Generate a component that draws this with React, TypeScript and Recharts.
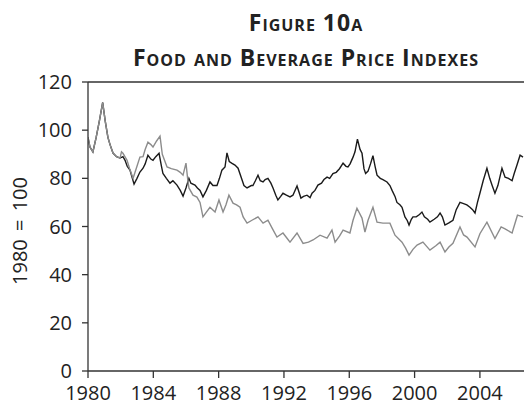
import { LineChart, Line, XAxis, YAxis, ReferenceLine } from "recharts";

// Two real price indexes, 1980 = 100. Black line sits on top from 1986 on.
const blackYears = [
  1980.0, 1980.12, 1980.3, 1980.5, 1980.7, 1980.9, 1981.05, 1981.22, 1981.35, 1981.53,
  1981.75, 1981.96, 1982.14, 1982.27, 1982.4, 1982.57, 1982.82, 1983.0, 1983.18, 1983.37,
  1983.5, 1983.67, 1983.85, 1983.98, 1984.15, 1984.35, 1984.5, 1984.59, 1984.8, 1985.02,
  1985.2, 1985.45, 1985.65, 1985.82, 1986.0, 1986.18, 1986.3, 1986.55, 1986.7, 1986.86,
  1987.04, 1987.25, 1987.47, 1987.65, 1987.9, 1988.05, 1988.2, 1988.39, 1988.51, 1988.65,
  1988.82, 1989.0, 1989.19, 1989.4, 1989.55, 1989.74, 1990.0, 1990.1, 1990.25, 1990.41,
  1990.55, 1990.72, 1990.85, 1991.02, 1991.2, 1991.33, 1991.5, 1991.63, 1991.8, 1991.94,
  1992.15, 1992.37, 1992.55, 1992.8, 1993.04, 1993.2, 1993.41, 1993.6, 1993.72, 1993.9,
  1994.08, 1994.3, 1994.45, 1994.64, 1994.8, 1995.0, 1995.2, 1995.4, 1995.62, 1995.8,
  1995.92, 1996.05, 1996.23, 1996.35, 1996.5, 1996.66, 1996.78, 1996.9, 1997.0, 1997.15,
  1997.3, 1997.45, 1997.58, 1997.7, 1997.9, 1998.06, 1998.31, 1998.49, 1998.62, 1998.8,
  1998.92, 1999.1, 1999.23, 1999.41, 1999.55, 1999.66, 1999.8, 1999.9, 2000.1, 2000.3,
  2000.45, 2000.6, 2000.8, 2000.94, 2001.2, 2001.4, 2001.56, 2001.7, 2001.86, 2002.1,
  2002.35, 2002.55, 2002.78, 2003.0, 2003.2, 2003.39, 2003.55, 2003.7, 2003.85, 2004.0,
  2004.2, 2004.43, 2004.6, 2004.75, 2004.92, 2005.1, 2005.35, 2005.54, 2005.75, 2005.97,
  2006.1, 2006.27, 2006.46, 2006.64,
];
const blackValues = [
  97, 93, 91, 97, 104, 111.5, 104, 97, 94, 90.5,
  89, 88.4, 89, 87.5, 85, 83.4, 77.6, 80, 82.6, 84.2,
  86, 89.6, 88, 87.5, 89, 90.4, 85, 82, 80, 78,
  79, 77.2, 75, 72.6, 76, 80, 78, 77.2, 76, 75,
  72.3, 75, 78.5, 77, 77, 80, 83.4, 84.7, 90.6, 87,
  86.2, 85.5, 84.2, 80, 77, 76, 77, 77, 79, 81.3,
  79, 78.5, 79.5, 80, 78, 76, 73, 71, 72.5, 73.8,
  73, 72.3, 73, 76.8, 71.8, 72.5, 73, 72, 73.8, 75,
  77.2, 78, 79.5, 80.5, 80, 82, 82.5, 84, 86.3, 85,
  84.7, 86, 88.8, 91, 96.3, 92, 90.4, 84, 82, 83,
  86, 89.4, 85, 81.3, 80, 79.5, 78.5, 77, 75, 72.5,
  70, 69, 68, 64, 62.5, 60.6, 63, 64, 64, 65,
  66, 64, 63, 61.8, 63, 64, 65.6, 64, 60.6, 61.5,
  62.6, 67, 70, 69.5, 69, 68, 67, 65.6, 70, 73.8,
  79, 84.2, 80, 77, 73.8, 77, 84.2, 80.5, 80, 79,
  82, 85.5, 89.6, 88.8,
];

const grayYears = [
  1980.0, 1980.12, 1980.3, 1980.5, 1980.7, 1980.9, 1981.05, 1981.22, 1981.35, 1981.53,
  1981.75, 1981.96, 1982.05, 1982.14, 1982.39, 1982.55, 1982.76, 1982.95, 1983.18, 1983.37,
  1983.5, 1983.67, 1983.85, 1983.98, 1984.2, 1984.41, 1984.55, 1984.84, 1985.1, 1985.45,
  1985.65, 1985.82, 1986.0, 1986.1, 1986.18, 1986.43, 1986.67, 1986.86, 1987.04, 1987.25,
  1987.47, 1987.78, 1988.02, 1988.27, 1988.45, 1988.63, 1988.88, 1989.1, 1989.31, 1989.5,
  1989.74, 1990.04, 1990.41, 1990.72, 1991.02, 1991.3, 1991.57, 1991.94, 1992.2, 1992.37,
  1992.8, 1993.17, 1993.5, 1993.78, 1994.21, 1994.64, 1994.94, 1995.13, 1995.4, 1995.62,
  1996.04, 1996.23, 1996.47, 1996.78, 1996.96, 1997.15, 1997.45, 1997.7, 1998.06, 1998.49,
  1998.8, 1999.23, 1999.45, 1999.66, 1999.9, 2000.15, 2000.51, 2000.94, 2001.3, 2001.56,
  2001.86, 2002.1, 2002.35, 2002.78, 2003.0, 2003.21, 2003.7, 2004.0, 2004.43, 2004.92,
  2005.3, 2005.54, 2005.97, 2006.3, 2006.64,
];
const grayValues = [
  97, 93, 91, 97, 104, 111.5, 104, 97, 94, 90.5,
  89, 88.4, 91, 90.4, 87.5, 84, 80, 84, 88.8, 89,
  92, 95, 94, 93, 95.5, 97.5, 90, 84.7, 84, 83.4,
  82.5, 81.3, 86.3, 80, 76, 73, 72.2, 70, 64, 66,
  68, 66, 71, 66, 69, 73, 69.7, 69, 68, 64,
  61.4, 62.6, 64, 61.4, 62.6, 59, 55.6, 57.3, 55, 53.5,
  57.3, 53, 53.5, 54.4, 56.4, 55.2, 58.5, 53.5, 56, 58.5,
  57.3, 62.6, 67.6, 63.5, 57.7, 62.6, 68, 61.8, 61.4, 61.4,
  56.4, 53.5, 51, 48.1, 50.5, 52.3, 53.5, 50.2, 52, 53.5,
  49.4, 51.5, 53, 59.8, 56.5, 55.6, 51.5, 57, 61.8, 55,
  59.8, 59, 57.3, 64.7, 64,
];

const xTicks = [1980, 1984, 1988, 1992, 1996, 2000, 2004];
const yTicks = [0, 20, 40, 60, 80, 100, 120];

const blackData = blackYears.map((t, i) => ({ t, v: blackValues[i] }));
const grayData = grayYears.map((t, i) => ({ t, v: grayValues[i] }));

const tickFont = { fill: "#222", fontSize: 20, fontFamily: "Open Sans" };

export default function App() {
  return (
    <div
      style={{
        position: "absolute",
        left: 0,
        top: 0,
        width: 524,
        height: 408,
        background: "#fff",
        overflow: "hidden",
      }}
    >
      <div
        style={{
          position: "absolute",
          left: 88,
          width: 436,
          top: 5,
          textAlign: "center",
          fontFamily: "Open Sans",
          fontWeight: 700,
          fontVariant: "small-caps",
          fontSize: 23,
          lineHeight: "35px",
          color: "#222",
          letterSpacing: 1,
        }}
      >
        <div>Figure 10a</div>
        <div>Food and Beverage Price Indexes</div>
      </div>
      <div
        style={{
          position: "absolute",
          left: 19,
          top: 231,
          transform: "translate(-50%, -50%) rotate(-90deg)",
          whiteSpace: "nowrap",
          fontFamily: "Open Sans",
          fontSize: 20,
          wordSpacing: 3,
          color: "#222",
        }}
      >
        1980 = 100
      </div>
      <LineChart
        width={524}
        height={408}
        margin={{ top: 82, right: 0, bottom: 0, left: 0 }}
        style={{ position: "absolute", left: 0, top: 0 }}
      >
        <XAxis
          type="number"
          dataKey="t"
          domain={[1980, 2006.7]}
          ticks={xTicks}
          allowDataOverflow
          height={37}
          tickSize={7}
          tickMargin={8}
          tick={tickFont}
          stroke="#333"
          strokeWidth={1.3}
        />
        <YAxis
          type="number"
          domain={[0, 120]}
          ticks={yTicks}
          width={88}
          tickSize={6}
          tickMargin={10}
          tick={tickFont}
          stroke="#333"
          strokeWidth={1.3}
        />
        <ReferenceLine y={120} stroke="#333" strokeWidth={1.3} />
        <Line
          data={blackData}
          dataKey="v"
          stroke="#1a1a1a"
          strokeWidth={1.4}
          dot={false}
          isAnimationActive={false}
        />
        <Line
          data={grayData}
          dataKey="v"
          stroke="#8c8c8c"
          strokeWidth={1.4}
          dot={false}
          isAnimationActive={false}
        />
      </LineChart>
    </div>
  );
}
